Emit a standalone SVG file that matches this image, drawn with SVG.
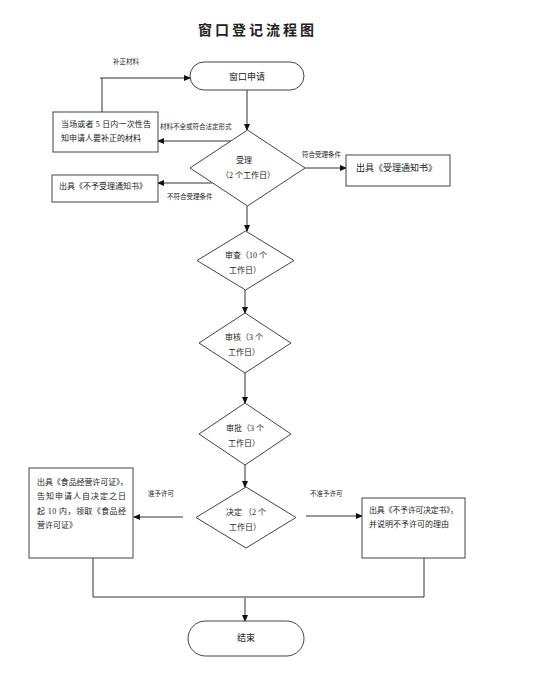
<svg xmlns="http://www.w3.org/2000/svg" width="557" height="698" viewBox="0 0 557 698">
<style>
text{font-family:"Liberation Serif","Noto Sans CJK SC",serif;fill:#222}
.t{font-size:14px;font-weight:bold;letter-spacing:3px}
.n{font-size:8px}
.m{font-size:9px}
.s{font-size:6.5px}
.c{text-anchor:middle}
.shape{fill:#fff;stroke:#444;stroke-width:1}
.ln{fill:none;stroke:#333;stroke-width:1}
.ar{marker-end:url(#ah)}
</style>
<defs>
<marker id="ah" markerUnits="userSpaceOnUse" markerWidth="7" markerHeight="6" refX="6" refY="3" orient="auto">
<path d="M0,0 L7,3 L0,6 Z" fill="#111"/>
</marker>
</defs>
<rect width="557" height="698" fill="#fff"/>
<text class="t" x="198" y="35">窗口登记流程图</text>

<g id="connectors">
<line class="ln ar" x1="247" y1="90" x2="247" y2="130"/>
<line class="ln ar" x1="232" y1="141" x2="158" y2="141"/>
<path class="ln" d="M102 112 V78"/>
<line class="ln ar" x1="100" y1="78" x2="190" y2="78"/>
<line class="ln ar" x1="305" y1="168" x2="346" y2="168"/>
<line class="ln ar" x1="212" y1="183" x2="158" y2="183"/>
<line class="ln ar" x1="247" y1="206" x2="247" y2="231"/>
<line class="ln ar" x1="245" y1="290" x2="245" y2="313"/>
<line class="ln ar" x1="245" y1="373" x2="245" y2="403"/>
<line class="ln ar" x1="245" y1="465" x2="245" y2="487"/>
<line class="ln ar" x1="183" y1="517" x2="134" y2="517"/>
<line class="ln ar" x1="306" y1="516" x2="362" y2="516"/>
<path class="ln" d="M93 558 V597 H424 V558"/>
<line class="ln ar" x1="245" y1="598" x2="245" y2="621"/>
<text class="s" x="113" y="64">补正材料</text>
<text class="s" x="160" y="129">材料不全或符合法定形式</text>
<text class="s" x="302" y="157">符合受理条件</text>
<text class="s" x="167" y="199">不符合受理条件</text>
<text class="s" x="148" y="496">准予许可</text>
<text class="s" x="310" y="496">不准予许可</text>
</g>

<g id="start">
<rect class="shape" x="190" y="62" width="114" height="28" rx="14"/>
<text class="m c" x="247" y="80">窗口申请</text>
</g>
<g id="accept">
<polygon class="shape" points="247.5,130 305,168 247.5,206 190,168"/>
<text class="n c" x="244" y="163">受理</text>
<text class="n c" x="248" y="178">（2 个工作日）</text>
</g>
<g id="supplement">
<rect class="shape" x="53" y="112" width="105" height="40"/>
<text class="n" x="61" y="127" textLength="90" lengthAdjust="spacing">当场或者 5 日内一次性告</text>
<text class="n" x="61" y="141">知申请人要补正的材料</text>
</g>
<g id="notice">
<rect class="shape" x="346" y="155" width="104" height="31"/>
<text class="m" x="356" y="171">出具《受理通知书》</text>
</g>
<g id="reject-notice">
<rect class="shape" x="52" y="175" width="106" height="27"/>
<text class="n" x="59" y="189">出具《不予受理通知书》</text>
</g>
<g id="review">
<polygon class="shape" points="245.5,231 294,260.5 245.5,290 197,260.5"/>
<text class="n c" x="246" y="258">审查（10 个</text>
<text class="n c" x="245" y="273">工作日）</text>
</g>
<g id="check">
<polygon class="shape" points="245,313 291,343 245,373 199,343"/>
<text class="n c" x="244" y="340">审核（3 个</text>
<text class="n c" x="244" y="355">工作日）</text>
</g>
<g id="approve">
<polygon class="shape" points="245,403 291,434 245,465 199,434"/>
<text class="n c" x="245" y="431">审批（3 个</text>
<text class="n c" x="244" y="446">工作日）</text>
</g>
<g id="decide">
<polygon class="shape" points="246,487 296,517.5 246,548 196,517.5"/>
<text class="n c" x="246" y="515">决定 （2 个</text>
<text class="n c" x="245" y="530">工作日）</text>
</g>
<g id="permit">
<rect class="shape" x="29" y="468" width="104" height="90"/>
<text class="n" x="37" y="485" textLength="91" lengthAdjust="spacing">出具《食品经营许可证》，</text>
<text class="n" x="37" y="499" textLength="89" lengthAdjust="spacing">告知申请人自决定之日</text>
<text class="n" x="37" y="514" textLength="89" lengthAdjust="spacing">起 10 内，领取《食品经</text>
<text class="n" x="37" y="528">营许可证》</text>
</g>
<g id="deny">
<rect class="shape" x="362" y="498" width="103" height="60"/>
<text class="n" x="369" y="513" textLength="89" lengthAdjust="spacing">出具《不予许可决定书》，</text>
<text class="n" x="369" y="527">并说明不予许可的理由</text>
</g>
<g id="end">
<rect class="shape" x="188" y="621" width="116" height="35" rx="17.5"/>
<text class="m c" x="246" y="641">结束</text>
</g>
</svg>
